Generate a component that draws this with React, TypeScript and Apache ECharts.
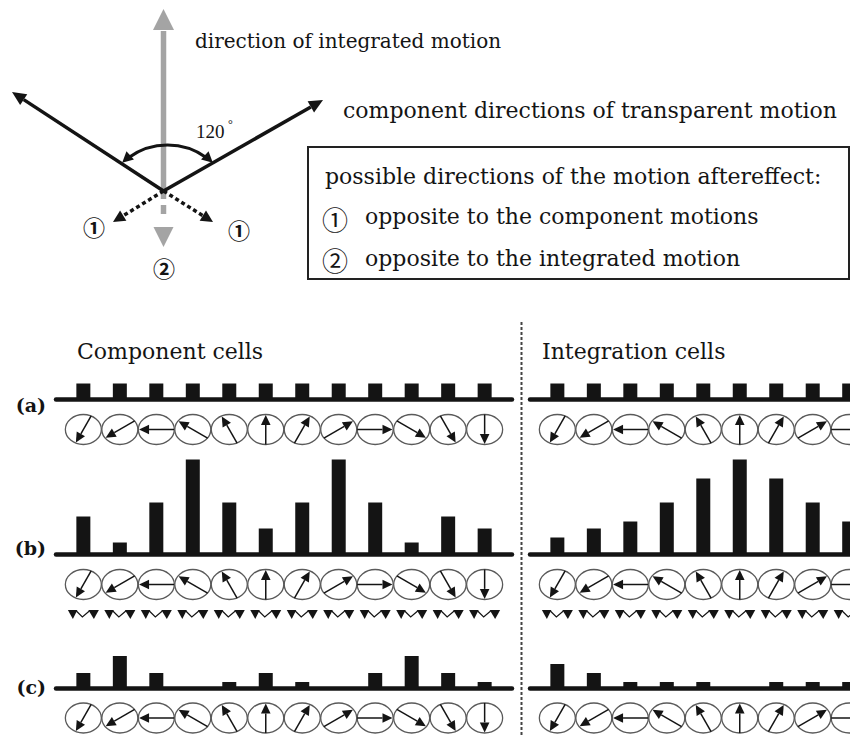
import React, { useEffect, useRef } from "react";
import * as echarts from "echarts";

// Preferred direction of each of the 12 cells (degrees, counter-clockwise from rightward)
const cellDirections = [240, 210, 180, 150, 120, 90, 60, 30, 0, -30, -60, -90];

// Responses of the component cells in rows (a), (b), (c)
const componentA = [16, 16, 16, 16, 16, 16, 16, 16, 16, 16, 16, 16];
const componentB = [38, 12, 52, 95, 52, 26, 52, 95, 52, 12, 38, 26];
const componentC = [15, 32, 15, 0, 6, 15, 6, 0, 15, 32, 15, 6];

// Responses of the integration cells in rows (a), (b), (c)
const integrationA = [16, 16, 16, 16, 16, 16, 16, 16, 16, 16, 16, 16];
const integrationB = [17, 26, 33, 52, 76, 95, 76, 52, 33, 26, 17, 12];
const integrationC = [24, 15, 6, 6, 6, 0, 6, 6, 6, 15, 24, 32];

const rowLabels = ["(a)", "(b)", "(c)"];
const panelTitles = ["Component cells", "Integration cells"];
const topLabels = ["direction of integrated motion", "component directions of transparent motion"];
const angleLabel = "120";
const legendTitle = "possible directions of the motion aftereffect:";
const legendMarks = ["①", "②"];
const legendItems = ["opposite to the component motions", "opposite to the integrated motion"];

const SERIF = '"DejaVu Serif", serif';
const INK = "#141414";
const GREY = "#a4a4a4";

// Layout of the three rows: baseline y and plotting height (1 unit = 1 px)
const rows = [
  { base: 399.5, h: 30, labelY: 405 },
  { base: 554.5, h: 110, labelY: 548 },
  { base: 688, h: 40, labelY: 687 },
];
const panelLeft = [56, 530];
const panelWidth = 456;
const CANVAS_W = 1000; // the right panel runs past the visible frame
const VIEW_W = 850;
const VIEW_H = 737;

const rowData = [
  [componentA, integrationA],
  [componentB, integrationB],
  [componentC, integrationC],
];

function head(tipX: number, tipY: number, dx: number, dy: number, len: number, half: number) {
  const n = Math.hypot(dx, dy);
  const ux = dx / n;
  const uy = dy / n;
  const bx = tipX - ux * len;
  const by = tipY - uy * len;
  return {
    base: [bx, by],
    points: [
      [tipX, tipY],
      [bx - uy * half, by + ux * half],
      [bx + uy * half, by - ux * half],
    ],
  };
}

// Circle with an arrow showing the cell's preferred direction
function renderCell(_params: any, api: any) {
  const p = api.coord([api.value(0), 0]);
  const cx = p[0];
  const cy = p[1] + 30;
  const t = (api.value(1) * Math.PI) / 180;
  const rx = 18;
  const ry = 15;
  const ux = Math.cos(t);
  const uy = -Math.sin(t);
  const d = 1 / Math.sqrt((ux / rx) ** 2 + (uy / ry) ** 2);
  const tipX = cx + ux * d * 0.96;
  const tipY = cy + uy * d * 0.96;
  const h = head(tipX, tipY, ux, uy, 10, 4.8);
  return {
    type: "group",
    children: [
      {
        type: "ellipse",
        shape: { cx, cy, rx, ry },
        style: { fill: "none", stroke: "#5a5a5a", lineWidth: 1.3 },
      },
      {
        type: "line",
        shape: { x1: cx - ux * d, y1: cy - uy * d, x2: h.base[0], y2: h.base[1] },
        style: { stroke: INK, lineWidth: 1.5 },
      },
      { type: "polygon", shape: { points: h.points }, style: { fill: INK } },
    ],
  };
}

// Paired arrowheads drawn under each cell of row (b)
function renderMarks(_params: any, api: any) {
  const p = api.coord([api.value(0), 0]);
  const cx = p[0];
  const cy = p[1] + 60;
  return {
    type: "group",
    children: [
      {
        type: "polygon",
        shape: { points: [[cx - 15.5, cy - 4.5], [cx - 6, cy - 4.5], [cx - 10.5, cy + 4.5]] },
        style: { fill: INK },
      },
      {
        type: "polygon",
        shape: { points: [[cx + 5, cy - 4.5], [cx + 15.5, cy - 4.5], [cx + 10.5, cy + 4.5]] },
        style: { fill: INK },
      },
      {
        type: "polyline",
        shape: { points: [[cx - 7, cy - 3.5], [cx - 1, cy + 2.5], [cx + 6, cy - 3.5]] },
        style: { stroke: INK, lineWidth: 1.2, fill: "none" },
      },
    ],
  };
}

function text(str: string, x: number, y: number, font: string, align = "left", extra: any = {}) {
  return {
    type: "text",
    x,
    y,
    style: {
      text: str,
      font,
      fill: INK,
      align,
      verticalAlign: "middle",
      textAlign: align,
      textVerticalAlign: "middle",
      ...extra,
    },
  };
}

function buildOption() {
  const grids: any[] = [];
  const xAxes: any[] = [];
  const yAxes: any[] = [];
  const series: any[] = [];

  rows.forEach((row, r) => {
    panelLeft.forEach((left, c) => {
      const gi = grids.length;
      grids.push({ left, width: panelWidth, top: row.base - row.h, height: row.h });
      xAxes.push({
        type: "value",
        gridIndex: gi,
        min: -0.75,
        max: 11.75,
        axisLine: { show: true, lineStyle: { color: INK, width: 4.5 } },
        axisTick: { show: false },
        axisLabel: { show: false },
        splitLine: { show: false },
      });
      yAxes.push({ type: "value", gridIndex: gi, min: 0, max: row.h, show: false });
      series.push({
        type: "bar",
        xAxisIndex: gi,
        yAxisIndex: gi,
        barWidth: 14,
        itemStyle: { color: INK },
        data: rowData[r][c].map((v, i) => [i, v]),
      });
      series.push({
        type: "custom",
        xAxisIndex: gi,
        yAxisIndex: gi,
        clip: false,
        renderItem: renderCell,
        data: cellDirections.map((a, i) => [i, a]),
      });
      if (r === 1) {
        series.push({
          type: "custom",
          xAxisIndex: gi,
          yAxisIndex: gi,
          clip: false,
          renderItem: renderMarks,
          data: cellDirections.map((a, i) => [i, a]),
        });
      }
    });
  });

  // Vector diagram at the top
  const O = [163.5, 191];
  const leftTip = [12, 92];
  const rightTip = [323, 100];
  const hl = head(leftTip[0], leftTip[1], leftTip[0] - O[0], leftTip[1] - O[1], 14, 6.5);
  const hr = head(rightTip[0], rightTip[1], rightTip[0] - O[0], rightTip[1] - O[1], 14, 6.5);
  const dl = [113, 222];
  const dr = [213, 222];
  const hdl = head(dl[0], dl[1], dl[0] - O[0], dl[1] - O[1], 12, 6);
  const hdr = head(dr[0], dr[1], dr[0] - O[0], dr[1] - O[1], 12, 6);
  const grayUp = head(O[0], 9, 0, -1, 21, 10.5);
  const grayDown = head(O[0], 247, 0, 1, 20, 10);

  const arcC = [167.5, 211.5];
  const arcR = 66.5;
  const rad = (d: number) => (d * Math.PI) / 180;
  const arcPt = (d: number) => [arcC[0] + arcR * Math.cos(rad(d)), arcC[1] + arcR * Math.sin(rad(d))];
  const aL = arcPt(-133);
  const aR = arcPt(-47);
  const haL = head(aL[0], aL[1], -0.7314, 0.682, 11, 5.5);
  const haR = head(aR[0], aR[1], 0.7314, 0.682, 11, 5.5);

  const lineEl = (x1: number, y1: number, x2: number, y2: number, style: any) => ({
    type: "line",
    shape: { x1, y1, x2, y2 },
    style,
  });
  const poly = (points: number[][], fill: string) => ({ type: "polygon", shape: { points }, style: { fill } });

  const elements: any[] = [
    // integrated motion (grey)
    lineEl(O[0], grayUp.base[1] + 1, O[0], 199, { stroke: GREY, lineWidth: 5.5 }),
    poly(grayUp.points, GREY),
    lineEl(O[0], 205, O[0], 214, { stroke: GREY, lineWidth: 5.5 }),
    poly(grayDown.points, GREY),
    // component motions (black)
    lineEl(O[0], O[1], hl.base[0], hl.base[1], { stroke: INK, lineWidth: 3.5 }),
    poly(hl.points, INK),
    lineEl(O[0], O[1], hr.base[0], hr.base[1], { stroke: INK, lineWidth: 3.5 }),
    poly(hr.points, INK),
    // 120 degree arc
    {
      type: "arc",
      shape: { cx: arcC[0], cy: arcC[1], r: arcR, startAngle: rad(-126), endAngle: rad(-54), clockwise: true },
      style: { stroke: INK, lineWidth: 3, fill: "none" },
    },
    poly(haL.points, INK),
    poly(haR.points, INK),
    // aftereffect directions (dotted)
    lineEl(O[0], O[1], hdl.base[0], hdl.base[1], { stroke: INK, lineWidth: 3.5, lineDash: [4, 3] }),
    poly(hdl.points, INK),
    lineEl(O[0], O[1], hdr.base[0], hdr.base[1], { stroke: INK, lineWidth: 3.5, lineDash: [4, 3] }),
    poly(hdr.points, INK),
    text(legendMarks[0], 94, 226, 'bold 22px "Noto Sans CJK JP"', "center"),
    text(legendMarks[0], 239, 229, 'bold 22px "Noto Sans CJK JP"', "center"),
    text(legendMarks[1], 164, 267, 'bold 22px "Noto Sans CJK JP"', "center"),
    text(angleLabel, 196, 131, '19px "Liberation Serif", serif'),
    text("°", 228, 124, '12px "Liberation Serif", serif'),
    text(topLabels[0], 195, 41, `20px ${SERIF}`),
    text(topLabels[1], 343, 110, `22px ${SERIF}`),
    // legend box
    {
      type: "rect",
      shape: { x: 308, y: 147, width: 541, height: 132 },
      style: { fill: "#fff", stroke: "#222", lineWidth: 2 },
    },
    text(legendTitle, 325, 176, `22px ${SERIF}`),
    text(legendMarks[0], 335, 218, '26px "Noto Sans CJK JP"', "center"),
    text(legendItems[0], 365, 216, `22px ${SERIF}`),
    text(legendMarks[1], 335, 259, '26px "Noto Sans CJK JP"', "center"),
    text(legendItems[1], 365, 258, `22px ${SERIF}`),
    // panel titles and separator
    text(panelTitles[0], 77, 351, `22px ${SERIF}`),
    text(panelTitles[1], 542, 351, `22px ${SERIF}`),
    lineEl(521.5, 322, 521.5, 737, { stroke: "#444", lineWidth: 2, lineDash: [3, 2] }),
  ];
  rows.forEach((row, r) => {
    elements.push(text(rowLabels[r], 46, row.labelY, `bold 19px ${SERIF}`, "right"));
  });

  return {
    animation: false,
    backgroundColor: "#ffffff",
    grid: grids,
    xAxis: xAxes,
    yAxis: yAxes,
    series,
    graphic: { elements },
  };
}

export default function App() {
  const ref = useRef<HTMLDivElement>(null);
  useEffect(() => {
    document.body.style.margin = "0";
    if (!ref.current) return;
    const chart = echarts.init(ref.current, undefined, { renderer: "svg" });
    chart.setOption(buildOption() as any);
    return () => chart.dispose();
  }, []);
  return (
    <div style={{ width: VIEW_W, height: VIEW_H, overflow: "hidden", position: "relative" }}>
      <div ref={ref} style={{ width: CANVAS_W, height: VIEW_H }} />
    </div>
  );
}
